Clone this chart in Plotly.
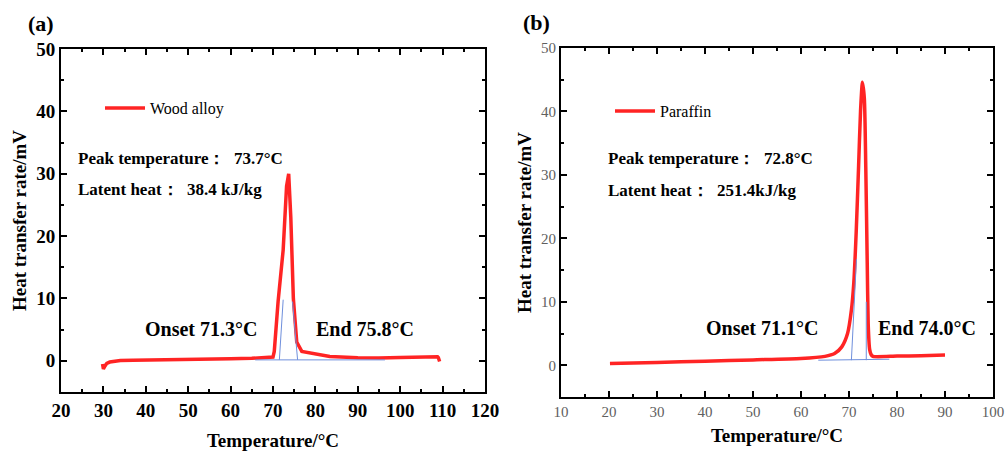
import plotly.graph_objects as go

# ---- data ----
temp_wood = [29.8, 30.0, 30.3, 30.8, 31.5, 32.5, 34, 37, 40, 45, 50, 55, 60, 65, 68, 70.0, 70.3,
             71.2, 72.4, 73.2, 73.7, 74.2, 74.8, 75.6, 76.8, 80, 83.4, 90, 95, 100, 105, 108.8, 109.0, 109.3]
hf_wood = [-0.5, -1.3, -0.9, -0.4, -0.2, -0.05, 0.05, 0.1, 0.15, 0.2, 0.25, 0.3, 0.35, 0.4, 0.45, 0.6, 1.5,
           9.5, 17.8, 28, 30, 23, 10, 3, 1.5, 1.1, 0.7, 0.5, 0.45, 0.55, 0.6, 0.65, 0.5, -0.1]

temp_par = [20.2, 30, 40, 50, 60, 65, 67, 68.5, 69.7, 70.5, 71.0, 71.5, 72.0, 72.4, 72.8, 73.2,
            73.5, 73.8, 74.0, 74.3, 74.6, 75.0, 80, 85, 90]
hf_par = [0.26, 0.45, 0.65, 0.85, 1.06, 1.4, 1.85, 2.9, 5.0, 8.7, 13, 21, 31.4, 40, 44.6, 42,
          31, 16, 6.5, 2.5, 1.7, 1.4, 1.45, 1.5, 1.6]

# tangent / baseline construction lines
wood_base_x = [65.8, 96.4]
wood_base_y = [0.15, 0.15]
wood_onset_x = [71.5, 72.4]
wood_onset_y = [0.15, 9.8]
wood_end_x = [74.6, 75.8]
wood_end_y = [9.5, 0.15]

par_base_x = [63.6, 78.4]
par_base_y = [0.8, 0.95]
par_onset_x = [70.5, 71.55]
par_onset_y = [0.8, 16.7]
par_end_x = [73.6, 73.6]
par_end_y = [10, 0.8]

RED = "#ff2424"
BLUE = "#6f8fdc"
SERIF = "Liberation Serif"

fig = go.Figure()

fig.add_trace(go.Scatter(x=temp_wood, y=hf_wood, mode="lines", name="Wood alloy",
                         line=dict(color=RED, width=3.5), xaxis="x", yaxis="y", legend="legend"))
for xs, ys in [(wood_base_x, wood_base_y), (wood_onset_x, wood_onset_y), (wood_end_x, wood_end_y)]:
    fig.add_trace(go.Scatter(x=xs, y=ys, mode="lines", line=dict(color=BLUE, width=1),
                             showlegend=False, xaxis="x", yaxis="y", hoverinfo="skip"))

fig.add_trace(go.Scatter(x=temp_par, y=hf_par, mode="lines", name="Paraffin",
                         line=dict(color=RED, width=3.5, shape="spline", smoothing=0.6),
                         xaxis="x2", yaxis="y2", legend="legend2"))
for xs, ys in [(par_base_x, par_base_y), (par_onset_x, par_onset_y), (par_end_x, par_end_y)]:
    fig.add_trace(go.Scatter(x=xs, y=ys, mode="lines", line=dict(color=BLUE, width=1),
                             showlegend=False, xaxis="x2", yaxis="y2", hoverinfo="skip"))

W, H = 1005, 451


def px(x):
    return x / W


def py(y):
    return 1 - y / H


def axis_common(tickfont):
    return dict(showline=True, linecolor="black", linewidth=2, mirror="allticks",
                ticks="inside", ticklen=6, tickwidth=2, tickcolor="black", automargin=False,
                showgrid=False, zeroline=False, tickfont=tickfont,
                minor=dict(ticks="inside", ticklen=3, tickwidth=2, tickcolor="black", dtick=5, showgrid=False))


font_a = dict(family=SERIF, size=19, color="black", weight="bold")
font_b = dict(family=SERIF, size=15, color="#606060")
title_font = dict(family=SERIF, size=19, color="black", weight="bold")

xa = axis_common(font_a)
xa.update(domain=[px(61), px(485)], range=[20, 120], dtick=10, tick0=0, anchor="y",
          title=dict(text="Temperature/°C", font=title_font, standoff=14))
ya = axis_common(font_a)
ya.update(domain=[py(392), py(49)], range=[-5, 50], dtick=10, tick0=0, anchor="x",
          title=dict(text="Heat transfer rate/mV", font=title_font, standoff=5))

xb = axis_common(font_b)
xb.update(domain=[px(561), px(993)], range=[10, 100], dtick=10, tick0=0, anchor="y2",
          title=dict(text="Temperature/°C", font=title_font, standoff=10))
yb = axis_common(font_b)
yb.update(domain=[py(397), py(48)], range=[-5, 50], dtick=10, tick0=0, anchor="x2",
          title=dict(text="Heat transfer rate/mV", font=title_font, standoff=4))

ann_font = dict(family=SERIF, size=17, color="black", weight="bold")
big_font = dict(family=SERIF, size=20, color="black", weight="bold")
lab_font = dict(family=SERIF, size=22, color="black", weight="bold")

annotations = [
    dict(text="(a)", x=px(26), y=py(23), xref="paper", yref="paper", xanchor="left", yanchor="middle",
         showarrow=False, font=lab_font),
    dict(text="(b)", x=px(521), y=py(22), xref="paper", yref="paper", xanchor="left", yanchor="middle",
         showarrow=False, font=lab_font),
    dict(text="Peak temperature：  73.7°C", x=px(76), y=py(158), xref="paper", yref="paper",
         xanchor="left", yanchor="middle", showarrow=False, font=ann_font),
    dict(text="Latent heat：  38.4 kJ/kg", x=px(76), y=py(189), xref="paper", yref="paper",
         xanchor="left", yanchor="middle", showarrow=False, font=ann_font),
    dict(text="Onset 71.3°C", x=px(143), y=py(329), xref="paper", yref="paper",
         xanchor="left", yanchor="middle", showarrow=False, font=big_font),
    dict(text="End 75.8°C", x=px(314), y=py(329), xref="paper", yref="paper",
         xanchor="left", yanchor="middle", showarrow=False, font=big_font),
    dict(text="Peak temperature：  72.8°C", x=px(606), y=py(158), xref="paper", yref="paper",
         xanchor="left", yanchor="middle", showarrow=False, font=ann_font),
    dict(text="Latent heat：  251.4kJ/kg", x=px(606), y=py(190), xref="paper", yref="paper",
         xanchor="left", yanchor="middle", showarrow=False, font=ann_font),
    dict(text="Onset 71.1°C", x=px(704), y=py(328), xref="paper", yref="paper",
         xanchor="left", yanchor="middle", showarrow=False, font=big_font),
    dict(text="End 74.0°C", x=px(876), y=py(328), xref="paper", yref="paper",
         xanchor="left", yanchor="middle", showarrow=False, font=big_font),
]

leg_font = dict(family=SERIF, size=16, color="black")

fig.update_layout(
    width=W, height=H,
    margin=dict(l=0, r=0, t=0, b=0, autoexpand=False),
    paper_bgcolor="white", plot_bgcolor="white",
    xaxis=xa, yaxis=ya, xaxis2=xb, yaxis2=yb,
    annotations=annotations,
    legend=dict(x=px(100), y=py(108), xanchor="left", yanchor="middle", font=leg_font,
                bgcolor="rgba(0,0,0,0)", itemwidth=40),
    legend2=dict(x=px(610), y=py(111), xanchor="left", yanchor="middle", font=leg_font,
                 bgcolor="rgba(0,0,0,0)", itemwidth=40),
    showlegend=True,
)

fig.write_html("out.html")
